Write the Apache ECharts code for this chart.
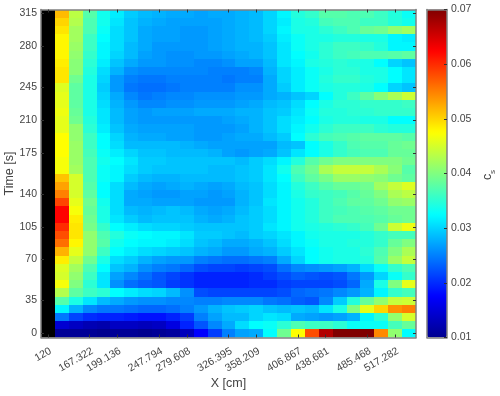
<!DOCTYPE html>
<html>
<head>
<meta charset="utf-8">
<style>
  html, body { margin: 0; padding: 0; background: #fff; }
  #main { width: 500px; height: 396px; }
</style>
<script src="https://cdn.jsdelivr.net/npm/echarts@6/dist/echarts.min.js"></script>
</head>
<body>
<div id="main"></div>
<script>
// X position of every column, cm (first column has no data, drawn black)
const xValues = [120, 135.9, 151.4, 167.322, 183.2, 199.136, 215, 231.9, 247.794, 263.7, 279.608, 295.5, 310.5,
  326.395, 342.3, 358.209, 374.1, 391, 406.867, 422.8, 438.681, 454.6, 469.6, 485.468, 501.4, 517.282, 533.2];
const xTickLabels = ["120", "167.322", "199.136", "247.794", "279.608", "326.395", "358.209", "406.867", "438.681", "485.468", "517.282"];
const yTickLabels = ["0", "35", "70", "105", "140", "175", "210", "245", "280", "315"];
const yTickRows = [0, 4, 9, 13, 17, 22, 26, 30, 35, 39];

// c_s per row, top of the chart first
const r39 = [null, .0515, .0435, .0375, .0335, .0315, .0295, .0285, .028, .0275, .0275, .027, .0275, .0275, .028, .0285, .030, .032, .0345, .0355, .0375, .0375, .037, .037, .036, .0345, .033];
const r38 = [null, .050, .043, .037, .0335, .031, .029, .028, .0275, .027, .027, .027, .027, .0275, .028, .0285, .030, .0315, .034, .0345, .0365, .037, .037, .036, .036, .0345, .0335];
const r37 = [null, .049, .042, .037, .033, .0305, .029, .0275, .027, .027, .0265, .0265, .027, .0275, .028, .0285, .030, .032, .034, .034, .035, .036, .037, .0385, .039, .041, .042];
const r36 = [null, .048, .042, .036, .0325, .0305, .029, .0275, .027, .027, .0265, .0265, .027, .0275, .028, .0285, .0295, .0315, .033, .034, .034, .0345, .0345, .034, .034, .032, .0315];
const r35 = [null, .048, .0415, .036, .032, .0305, .0285, .0275, .0265, .0265, .0265, .0265, .027, .0275, .028, .028, .029, .031, .033, .034, .035, .036, .036, .0355, .0345, .032, .032];
const r34 = [null, .048, .041, .0355, .032, .030, .0285, .027, .0265, .026, .026, .0265, .0265, .027, .0275, .028, .029, .031, .0325, .0335, .035, .036, .0365, .037, .037, .0375, .038];
const r33 = [null, .0485, .0405, .035, .0315, .029, .0275, .0265, .0265, .026, .026, .0255, .0255, .026, .027, .027, .0285, .031, .032, .034, .0345, .035, .0345, .034, .0325, .030, .029];
const r32 = [null, .049, .0405, .0345, .0305, .028, .026, .0255, .0255, .0255, .0255, .0255, .025, .025, .025, .0255, .028, .030, .0315, .033, .034, .035, .035, .034, .034, .0325, .031];
const r31 = [null, .049, .039, .034, .030, .0265, .025, .0245, .0245, .025, .025, .025, .025, .0245, .025, .025, .0275, .030, .0315, .033, .0345, .0355, .0355, .0345, .034, .0325, .031];
const r30 = [null, .0455, .038, .034, .0295, .0265, .0245, .024, .024, .0245, .025, .025, .025, .025, .026, .026, .0275, .0295, .0315, .033, .034, .0345, .0345, .034, .0325, .030, .029];
const r29 = [null, .046, .038, .034, .030, .0275, .0255, .0245, .025, .0255, .0255, .026, .026, .026, .0265, .0265, .0275, .028, .029, .030, .0325, .0345, .036, .038, .0405, .0425, .0445];
const r28 = [null, .046, .038, .034, .0305, .028, .0265, .0255, .0255, .026, .026, .0265, .0265, .0265, .027, .0275, .0285, .029, .0305, .0325, .034, .035, .035, .0355, .0355, .0355, .036];
const r27 = [null, .0465, .0385, .034, .031, .0285, .027, .0265, .027, .027, .027, .0275, .0275, .0275, .028, .028, .029, .0295, .031, .033, .0345, .0345, .035, .035, .0355, .0355, .0355];
const r26 = [null, .046, .039, .0345, .031, .0285, .027, .0265, .0265, .0265, .0265, .0265, .0265, .027, .0275, .028, .029, .0305, .0315, .0325, .034, .0345, .0345, .034, .034, .0325, .0325];
const r25 = [null, .046, .041, .035, .0315, .029, .0275, .027, .027, .027, .027, .0265, .0265, .0265, .027, .028, .029, .0305, .032, .0335, .035, .036, .036, .036, .035, .0345, .0345];
const r24 = [null, .0475, .041, .036, .0325, .030, .028, .0275, .0275, .027, .027, .0265, .0265, .027, .0275, .0275, .0285, .0295, .0325, .035, .0365, .037, .0375, .038, .038, .038, .0375];
const r23 = [null, .0475, .0415, .036, .0325, .0305, .0285, .0285, .0285, .0285, .028, .0275, .027, .027, .027, .027, .027, .0285, .029, .0325, .034, .0355, .037, .0375, .0375, .0385, .039];
const r22 = [null, .0475, .0415, .0365, .033, .0315, .030, .029, .029, .0285, .0285, .0285, .028, .027, .0265, .027, .0275, .029, .031, .0325, .034, .0355, .0365, .037, .037, .0385, .0385];
const r21 = [null, .047, .0415, .037, .0335, .0325, .031, .0295, .0295, .029, .029, .029, .029, .029, .0285, .0295, .0305, .032, .0345, .0375, .039, .040, .040, .040, .040, .040, .039];
const r20 = [null, .047, .042, .037, .033, .032, .0305, .0295, .029, .029, .029, .029, .0285, .0285, .029, .0295, .031, .0335, .037, .039, .0425, .044, .044, .044, .0425, .0405, .0375];
const r19 = [null, .051, .045, .037, .033, .032, .0295, .0285, .028, .028, .0285, .0285, .0285, .0285, .029, .0295, .031, .0325, .036, .038, .0395, .0415, .0415, .041, .0405, .039, .038];
const r18 = [null, .053, .045, .0375, .0325, .0305, .0285, .0275, .027, .0275, .028, .0275, .027, .0275, .0285, .029, .0305, .032, .0345, .036, .0375, .0385, .0385, .039, .042, .044, .0455];
const r17 = [null, .055, .045, .038, .0325, .0305, .0275, .027, .0265, .0265, .027, .027, .0265, .027, .028, .029, .0305, .032, .034, .0355, .036, .0365, .0375, .0385, .040, .0425, .0435];
const r16 = [null, .0585, .046, .039, .0335, .0305, .0275, .0275, .027, .027, .027, .0265, .0265, .0265, .028, .029, .031, .032, .0335, .0345, .036, .037, .038, .038, .039, .041, .0415];
const r15 = [null, .0625, .047, .0385, .034, .0305, .0285, .028, .0285, .029, .0285, .0275, .027, .0275, .0285, .0295, .0305, .032, .0335, .0345, .036, .0365, .037, .0375, .038, .039, .039];
const r14 = [null, .0625, .0485, .039, .034, .031, .0295, .0285, .029, .029, .029, .028, .0275, .028, .029, .0295, .0305, .032, .0335, .0345, .036, .037, .037, .037, .0375, .0385, .039];
const r13 = [null, .060, .049, .0395, .0355, .0325, .0315, .0305, .030, .030, .0295, .029, .029, .029, .029, .0295, .031, .032, .0335, .034, .0345, .035, .0355, .0365, .039, .0445, .0465];
const r12 = [null, .058, .049, .041, .037, .0345, .033, .0325, .032, .032, .031, .0295, .0295, .029, .0285, .0295, .030, .031, .032, .0335, .034, .034, .034, .0345, .0355, .0365, .0365];
const r11 = [null, .056, .048, .041, .0375, .0335, .0325, .032, .032, .0315, .0305, .029, .0285, .0275, .0275, .028, .029, .0305, .032, .033, .034, .034, .0345, .0345, .0355, .0385, .040];
const r10 = [null, .052, .046, .041, .036, .0325, .0315, .0305, .030, .0295, .029, .028, .0275, .0265, .0265, .0275, .028, .0295, .031, .0325, .0335, .034, .034, .035, .037, .040, .0425];
const r09 = [null, .0485, .044, .039, .034, .0305, .0295, .028, .027, .0265, .0265, .025, .0245, .024, .024, .0245, .025, .0275, .030, .0325, .0335, .034, .034, .0345, .0375, .0415, .044];
const r08 = [null, .0455, .042, .037, .0325, .029, .028, .026, .025, .0245, .0235, .022, .0215, .0215, .021, .0215, .022, .024, .0255, .026, .0265, .027, .028, .0305, .033, .0355, .037];
const r07 = [null, .045, .041, .036, .031, .027, .0255, .024, .0225, .0215, .0205, .0195, .0195, .0195, .0195, .020, .021, .022, .023, .0225, .022, .0225, .0245, .0265, .030, .033, .0355];
const r06 = [null, .047, .040, .035, .031, .026, .024, .023, .0225, .021, .0205, .0195, .0195, .0195, .0195, .020, .020, .021, .0215, .0215, .0215, .022, .0235, .0275, .034, .040, .046];
const r05 = [null, .043, .038, .036, .035, .0325, .0315, .0305, .030, .0285, .026, .022, .0215, .0215, .0215, .0215, .0215, .022, .0235, .024, .0245, .0255, .0265, .028, .032, .0355, .0365];
const r04 = [null, .0375, .034, .031, .0285, .0275, .0265, .026, .026, .0255, .0255, .025, .025, .0255, .0255, .0255, .0245, .024, .023, .0225, .0255, .0295, .0345, .0385, .041, .044, .0445];
const r03 = [null, .032, .028, .0255, .0245, .0245, .024, .0235, .0235, .024, .025, .0265, .028, .029, .0295, .030, .029, .0285, .029, .0285, .031, .034, .040, .046, .050, .054, .055];
const r02 = [null, .0245, .0215, .020, .0195, .0195, .019, .0185, .0185, .0195, .021, .025, .027, .0285, .0285, .030, .031, .0305, .0275, .027, .0265, .027, .028, .032, .035, .041, .045];
const r01 = [null, .0145, .0135, .0125, .012, .0135, .0135, .013, .0135, .0155, .0195, .0225, .0255, .0275, .0305, .0325, .033, .035, .037, .036, .036, .035, .033, .033, .033, .0365, .0385];
const r00 = [null, .0105, .0105, .0105, .010, .0105, .0105, .010, .0105, .011, .013, .0175, .021, .025, .027, .0275, .0325, .039, .0475, .058, .067, .07, .07, .07, .0545, .041, .0325];

const rows = [r00, r01, r02, r03, r04, r05, r06, r07, r08, r09, r10, r11, r12, r13, r14, r15, r16, r17, r18, r19,
  r20, r21, r22, r23, r24, r25, r26, r27, r28, r29, r30, r31, r32, r33, r34, r35, r36, r37, r38, r39];

const jet = ["#00008f", "#0000ff", "#0080ff", "#00ffff", "#80ff80", "#ffff00", "#ff8000", "#ff0000", "#800000"];
const font = "Liberation Sans";
const textColor = "#444";
const boxColor = "#808080";

const xTicks = [0, 3, 5, 8, 10, 13, 15, 18, 20, 23, 25];
const rowIdx = rows.map((r, i) => i);
const cells = [];
rows.forEach((row, y) => row.forEach((v, x) => cells.push([x, y, v === null ? "-" : v])));

const isXTick = (i) => xTicks.indexOf(i) >= 0;
const isYTick = (i) => yTickRows.indexOf(i) >= 0;
const tickStyle = { show: true, inside: true, length: 3, alignWithLabel: true, lineStyle: { color: "#333", width: 1 } };
const boxLine = { show: true, lineStyle: { color: boxColor, width: 1.5 } };

// one rect per cell, edges snapped to whole pixels so no seams show between cells
function renderCell(params, api) {
  const c = api.coord([api.value(0), api.value(1)]);
  const s = api.size([1, 1]);
  const x0 = Math.round(c[0] - s[0] / 2);
  const x1 = Math.round(c[0] + s[0] / 2);
  const y0 = Math.round(c[1] - s[1] / 2);
  const y1 = Math.round(c[1] + s[1] / 2);
  const v = api.value(2);
  return {
    type: "rect",
    shape: { x: x0, y: y0, width: x1 - x0, height: y1 - y0 },
    style: { fill: isNaN(v) ? "#000" : api.visual("color") },
  };
}

const myChart = echarts.init(document.getElementById("main"), null, { renderer: "canvas" });
myChart.setOption({
  animation: false,
  backgroundColor: "#fff",
  textStyle: { fontFamily: font },
  grid: [
    { left: 41, top: 9.5, width: 375, height: 328, show: false, outerBoundsMode: "none" },
    { left: 427, top: 9.5, width: 20, height: 328, show: false, outerBoundsMode: "none" },
  ],
  xAxis: [
    {
      type: "category", gridIndex: 0, data: xValues, z: 3, axisLine: boxLine,
      axisTick: { ...tickStyle, interval: (i) => isXTick(i) },
      axisLabel: {
        interval: (i) => isXTick(i),
        formatter: (v, i) => xTickLabels[xTicks.indexOf(i)],
        rotate: 30, verticalAlign: "top", color: textColor, fontSize: 10.5, margin: 8, fontFamily: font, hideOverlap: false,
      },
      name: "X [cm]", nameLocation: "middle", nameGap: 40, nameMoveOverlap: false,
      nameTextStyle: { color: textColor, fontSize: 12.5, fontFamily: font },
    },
    {
      type: "category", gridIndex: 0, data: xValues, z: 3, position: "top", axisLine: boxLine,
      axisTick: { ...tickStyle, interval: (i) => isXTick(i) }, axisLabel: { show: false },
    },
    { type: "category", gridIndex: 1, data: [""], z: 5, axisLine: boxLine, axisTick: { show: false }, axisLabel: { show: false } },
    { type: "category", gridIndex: 1, data: [""], z: 5, position: "top", axisLine: boxLine, axisTick: { show: false }, axisLabel: { show: false } },
  ],
  yAxis: [
    {
      type: "category", gridIndex: 0, data: rowIdx, z: 3, axisLine: boxLine,
      axisTick: { ...tickStyle, interval: (i) => isYTick(i) },
      axisLabel: {
        interval: (i) => isYTick(i),
        formatter: (v, i) => yTickLabels[yTickRows.indexOf(i)],
        color: textColor, fontSize: 10.5, margin: 4, fontFamily: font,
      },
      name: "Time [s]", nameLocation: "middle", nameGap: 25, nameRotate: 90, nameMoveOverlap: false,
      nameTextStyle: { color: textColor, fontSize: 12.5, fontFamily: font },
    },
    {
      type: "category", gridIndex: 0, data: rowIdx, z: 3, position: "right", axisLine: boxLine,
      axisTick: { ...tickStyle, interval: (i) => isYTick(i) }, axisLabel: { show: false },
    },
    {
      type: "value", gridIndex: 1, min: 0.01, max: 0.07, interval: 0.01, position: "right", z: 5,
      axisLine: boxLine, splitLine: { show: false },
      axisTick: { show: true, inside: true, length: 3, lineStyle: { color: "#333" } },
      axisLabel: { color: textColor, fontSize: 10.5, margin: 4, fontFamily: font, formatter: (v) => v.toFixed(2) },
    },
    {
      type: "value", gridIndex: 1, min: 0.01, max: 0.07, interval: 0.01, position: "left", z: 5,
      axisLine: boxLine, splitLine: { show: false }, axisTick: { show: false }, axisLabel: { show: false },
    },
  ],
  visualMap: {
    type: "continuous", seriesIndex: 0, dimension: 2, min: 0.01, max: 0.07, left: 427, top: 9.5, padding: 0,
    itemWidth: 20, itemHeight: 328, calculable: false, text: null, showLabel: false, hoverLink: false,
    inRange: { color: jet }, textStyle: { color: "transparent", fontSize: 1 },
  },
  series: [{
    type: "custom", xAxisIndex: 0, yAxisIndex: 0, data: cells, renderItem: renderCell,
    encode: { x: 0, y: 1 }, clip: true,
  }],
  graphic: [
    { type: "text", x: 481, y: 180, rotation: Math.PI / 2, style: { text: "c", font: "12.5px " + font, fill: textColor } },
    { type: "text", x: 489, y: 174, rotation: Math.PI / 2, style: { text: "s", font: "8px " + font, fill: textColor } },
  ],
});
window.addEventListener("resize", () => myChart.resize());
</script>
</body>
</html>
